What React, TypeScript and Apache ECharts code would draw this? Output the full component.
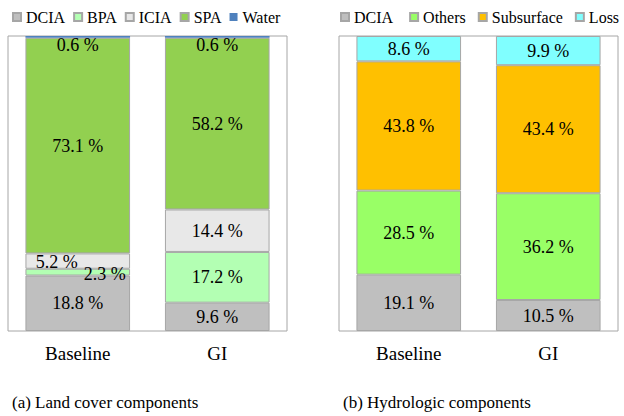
import React, { useEffect, useRef } from "react";
import * as echarts from "echarts";

const categories = ["Baseline", "GI"];

// (a) Land cover components (%)
const landDCIA = [18.8, 9.6];
const landBPA = [2.3, 17.2];
const landICIA = [5.2, 14.4];
const landSPA = [73.1, 58.2];
const landWater = [0.6, 0.6];

// (b) Hydrologic components (%)
const hydroDCIA = [19.1, 10.5];
const hydroOthers = [28.5, 36.2];
const hydroSubsurface = [43.8, 43.4];
const hydroLoss = [8.6, 9.9];

const captions = ["(a) Land cover components", "(b) Hydrologic components"];

const FONT = "Liberation Serif";
const BORDER = "#a6a6a6";

export default function App() {
  const ref = useRef<HTMLDivElement>(null);

  useEffect(() => {
    if (!ref.current) return;
    const chart = echarts.init(ref.current, null, { renderer: "svg" });

    const mk = (
      name: string,
      values: number[],
      color: string,
      axis: number,
      stack: string,
      offsets?: ([number, number] | null)[],
      noBorder?: boolean
    ) => ({
      type: "bar",
      name,
      stack,
      xAxisIndex: axis,
      yAxisIndex: axis,
      barCategoryGap: "25%",
      itemStyle: {
        color,
        borderColor: noBorder ? color : BORDER,
        borderWidth: noBorder ? 0 : 1,
      },
      label: {
        show: true,
        position: "inside",
        formatter: "{c} %",
        fontFamily: FONT,
        fontSize: 18,
        color: "#000",
      },
      data: values.map((v, i) => {
        const off = offsets ? offsets[i] : null;
        return off ? { value: v, label: { offset: off } } : { value: v };
      }),
    });

    const legendCommon = {
      top: 9,
      padding: 0,
      icon: "rect",
      itemWidth: 8,
      itemHeight: 8,
      width: 400,
      textStyle: { fontFamily: FONT, fontSize: 16, color: "#000" },
    };

    const xAxisCommon = {
      type: "category",
      data: categories,
      axisLine: { show: false },
      axisTick: { show: false },
      axisLabel: { fontFamily: FONT, fontSize: 19, color: "#000", margin: 13 },
    };
    const yAxisCommon = { type: "value", min: 0, max: 100, show: false };

    chart.setOption({
      animation: false,
      backgroundColor: "#fff",
      legend: [
        {
          ...legendCommon,
          left: 12,
          itemGap: 8,
          data: ["DCIA", "BPA", "ICIA", "SPA", "Water"],
        },
        {
          ...legendCommon,
          left: 340,
          itemGap: 12,
          data: ["DCIA ", "Others", "Subsurface", "Loss"],
        },
      ],
      grid: [
        { left: 8, top: 36, width: 279, height: 295, show: true, borderColor: BORDER, borderWidth: 1, backgroundColor: "#fff" },
        { left: 339, top: 36, width: 279, height: 295, show: true, borderColor: BORDER, borderWidth: 1, backgroundColor: "#fff" },
      ],
      xAxis: [
        { ...xAxisCommon, gridIndex: 0 },
        { ...xAxisCommon, gridIndex: 1 },
      ],
      yAxis: [
        { ...yAxisCommon, gridIndex: 0 },
        { ...yAxisCommon, gridIndex: 1 },
      ],
      series: [
        mk("DCIA", landDCIA, "#bfbfbf", 0, "a"),
        mk("BPA", landBPA, "#b3ffb3", 0, "a", [[27, 2], null]),
        mk("ICIA", landICIA, "#e8e8e8", 0, "a", [[-21, 1], null]),
        mk("SPA", landSPA, "#92d050", 0, "a"),
        mk("Water", landWater, "#4f81bd", 0, "a", [[0, 8], [0, 8]], true),
        mk("DCIA ", hydroDCIA, "#bfbfbf", 1, "b"),
        mk("Others", hydroOthers, "#99ff66", 1, "b"),
        mk("Subsurface", hydroSubsurface, "#ffc000", 1, "b"),
        mk("Loss", hydroLoss, "#80ffff", 1, "b"),
      ],
      graphic: [
        {
          type: "text",
          left: 12,
          top: 394,
          style: { text: captions[0], fontFamily: FONT, fontSize: 17, fill: "#000" },
        },
        {
          type: "text",
          left: 343,
          top: 394,
          style: { text: captions[1], fontFamily: FONT, fontSize: 17, fill: "#000" },
        },
      ],
    });

    return () => chart.dispose();
  }, []);

  return (
    <div
      ref={ref}
      style={{ position: "fixed", left: 0, top: 0, width: 624, height: 416 }}
    />
  );
}
